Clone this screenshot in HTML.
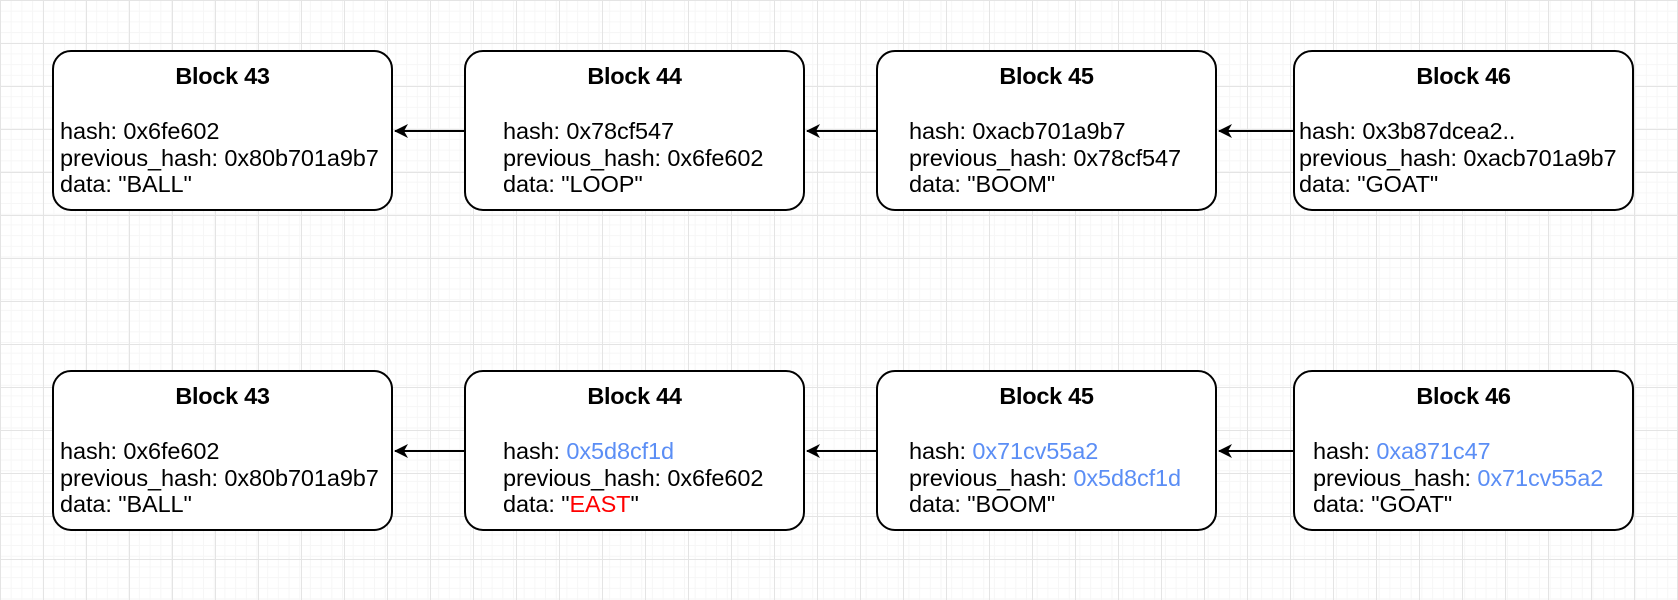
<!DOCTYPE html>
<html><head><style>
html,body{margin:0;padding:0}
body{width:1678px;height:600px;position:relative;overflow:hidden;background:#fff;
background-image:linear-gradient(#e4e4e4 1px,transparent 1px),linear-gradient(90deg,#e4e4e4 1px,transparent 1px),linear-gradient(#f6f6f6 1px,transparent 1px),linear-gradient(90deg,#f6f6f6 1px,transparent 1px);
background-size:43px 43px,43px 43px,10.7px 10.7px,10.7px 10.7px;
font-family:"Liberation Sans",Arial,sans-serif;color:#000}
.b{position:absolute;width:337px;height:157px;border:2px solid #000;border-radius:19px;background:#fff}
.t{position:absolute;font-weight:bold;font-size:23.5px;width:341px;text-align:center;letter-spacing:-0.3px}
.x{position:absolute;font-size:23.5px;line-height:26.5px;white-space:nowrap;letter-spacing:-0.1px}
.u{color:#5b8ef5}.r{color:#f00}
svg{position:absolute;left:0;top:0}
</style></head><body>
<div class="b" style="left:52px;top:50px"></div>
<div class="b" style="left:464px;top:50px"></div>
<div class="b" style="left:876px;top:50px"></div>
<div class="b" style="left:1293px;top:50px"></div>
<div class="b" style="left:52px;top:370px"></div>
<div class="b" style="left:464px;top:370px"></div>
<div class="b" style="left:876px;top:370px"></div>
<div class="b" style="left:1293px;top:370px"></div>

<div class="t" style="left:52px;top:63px">Block 43</div>
<div class="t" style="left:464px;top:63px">Block 44</div>
<div class="t" style="left:876px;top:63px">Block 45</div>
<div class="t" style="left:1293px;top:63px">Block 46</div>
<div class="t" style="left:52px;top:383px">Block 43</div>
<div class="t" style="left:464px;top:383px">Block 44</div>
<div class="t" style="left:876px;top:383px">Block 45</div>
<div class="t" style="left:1293px;top:383px">Block 46</div>

<div class="x" style="left:60px;top:118px">hash: 0x6fe602<br>previous_hash: 0x80b701a9b7<br>data: "BALL"</div>
<div class="x" style="left:503px;top:118px">hash: 0x78cf547<br>previous_hash: 0x6fe602<br>data: "LOOP"</div>
<div class="x" style="left:909px;top:118px">hash: 0xacb701a9b7<br>previous_hash: 0x78cf547<br>data: "BOOM"</div>
<div class="x" style="left:1299px;top:118px">hash: 0x3b87dcea2..<br>previous_hash: 0xacb701a9b7<br>data: "GOAT"</div>

<div class="x" style="left:60px;top:438px">hash: 0x6fe602<br>previous_hash: 0x80b701a9b7<br>data: "BALL"</div>
<div class="x" style="left:503px;top:438px">hash: <span class="u">0x5d8cf1d</span><br>previous_hash: 0x6fe602<br>data: "<span class="r">EAST</span>"</div>
<div class="x" style="left:909px;top:438px">hash: <span class="u">0x71cv55a2</span><br>previous_hash: <span class="u">0x5d8cf1d</span><br>data: "BOOM"</div>
<div class="x" style="left:1313px;top:438px">hash: <span class="u">0xa871c47</span><br>previous_hash: <span class="u">0x71cv55a2</span><br>data: "GOAT"</div>

<svg width="1678" height="600">
<defs><marker id="a" markerWidth="14" markerHeight="14" refX="13" refY="7" orient="auto" markerUnits="userSpaceOnUse">
<path d="M0,0 L14,7 L0,14 L4,7 Z" fill="#000"/></marker></defs>
<g stroke="#000" stroke-width="2" fill="none">
<line x1="464" y1="131" x2="395" y2="131" marker-end="url(#a)"/>
<line x1="876" y1="131" x2="807" y2="131" marker-end="url(#a)"/>
<line x1="1293" y1="131" x2="1219" y2="131" marker-end="url(#a)"/>
<line x1="464" y1="451" x2="395" y2="451" marker-end="url(#a)"/>
<line x1="876" y1="451" x2="807" y2="451" marker-end="url(#a)"/>
<line x1="1293" y1="451" x2="1219" y2="451" marker-end="url(#a)"/>
</g></svg>
</body></html>
